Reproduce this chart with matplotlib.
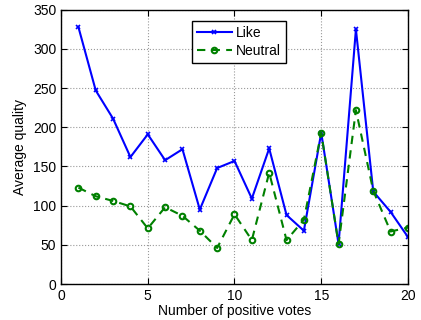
import numpy as np
import matplotlib
matplotlib.use('Agg')
import matplotlib.pyplot as plt

plt.rcParams['font.family'] = ['Liberation Sans', 'DejaVu Sans']

votes = [1, 2, 3, 4, 5, 6, 7, 8, 9, 10, 11, 12, 13, 14, 15, 16, 17, 18, 19, 20]
like = [328, 247, 211, 162, 191, 158, 172, 95, 148, 157, 109, 173, 88, 68, 193, 51, 325, 118, 92, 60]
neutral = [123, 112, 106, 99, 71, 98, 87, 68, 46, 89, 56, 142, 56, 82, 193, 51, 222, 119, 67, 72]

fig = plt.figure(figsize=(4.21, 3.2), dpi=100)
ax = fig.add_axes([0.145, 0.1125, 0.824, 0.857])

ax.plot(votes, like, color='blue', linestyle='-', linewidth=1.5, marker='x',
        markersize=3.5, markeredgewidth=1.2, label='Like')
ax.plot(votes, neutral, color=(0, 0.5, 0), linestyle='--', linewidth=1.5, marker='o',
        markersize=4, markerfacecolor='none', markeredgewidth=1.5, label='Neutral',
        dashes=(4, 3))

ax.set_xlim(0, 20)
ax.set_ylim(0, 350)
ax.set_xticks([0, 5, 10, 15, 20])
ax.set_yticks(np.arange(0, 351, 50))
ax.tick_params(direction='in', top=True, right=True, labelsize=10, length=4)
ax.grid(True, linestyle=':', color='#999999', linewidth=0.8)
for s in ax.spines.values():
    s.set_linewidth(1.0)

ax.set_xlabel('Number of positive votes', fontsize=10, labelpad=1)
ax.set_ylabel('Average quality', fontsize=10, labelpad=4)

leg = ax.legend(loc='upper center', bbox_to_anchor=(0.513, 0.985), fontsize=10,
                fancybox=False, framealpha=1, edgecolor='black',
                handlelength=2.5, borderpad=0.35, labelspacing=0.3, handletextpad=0.3)
leg.get_frame().set_linewidth(1.0)

fig.savefig('out.png', dpi=100)
